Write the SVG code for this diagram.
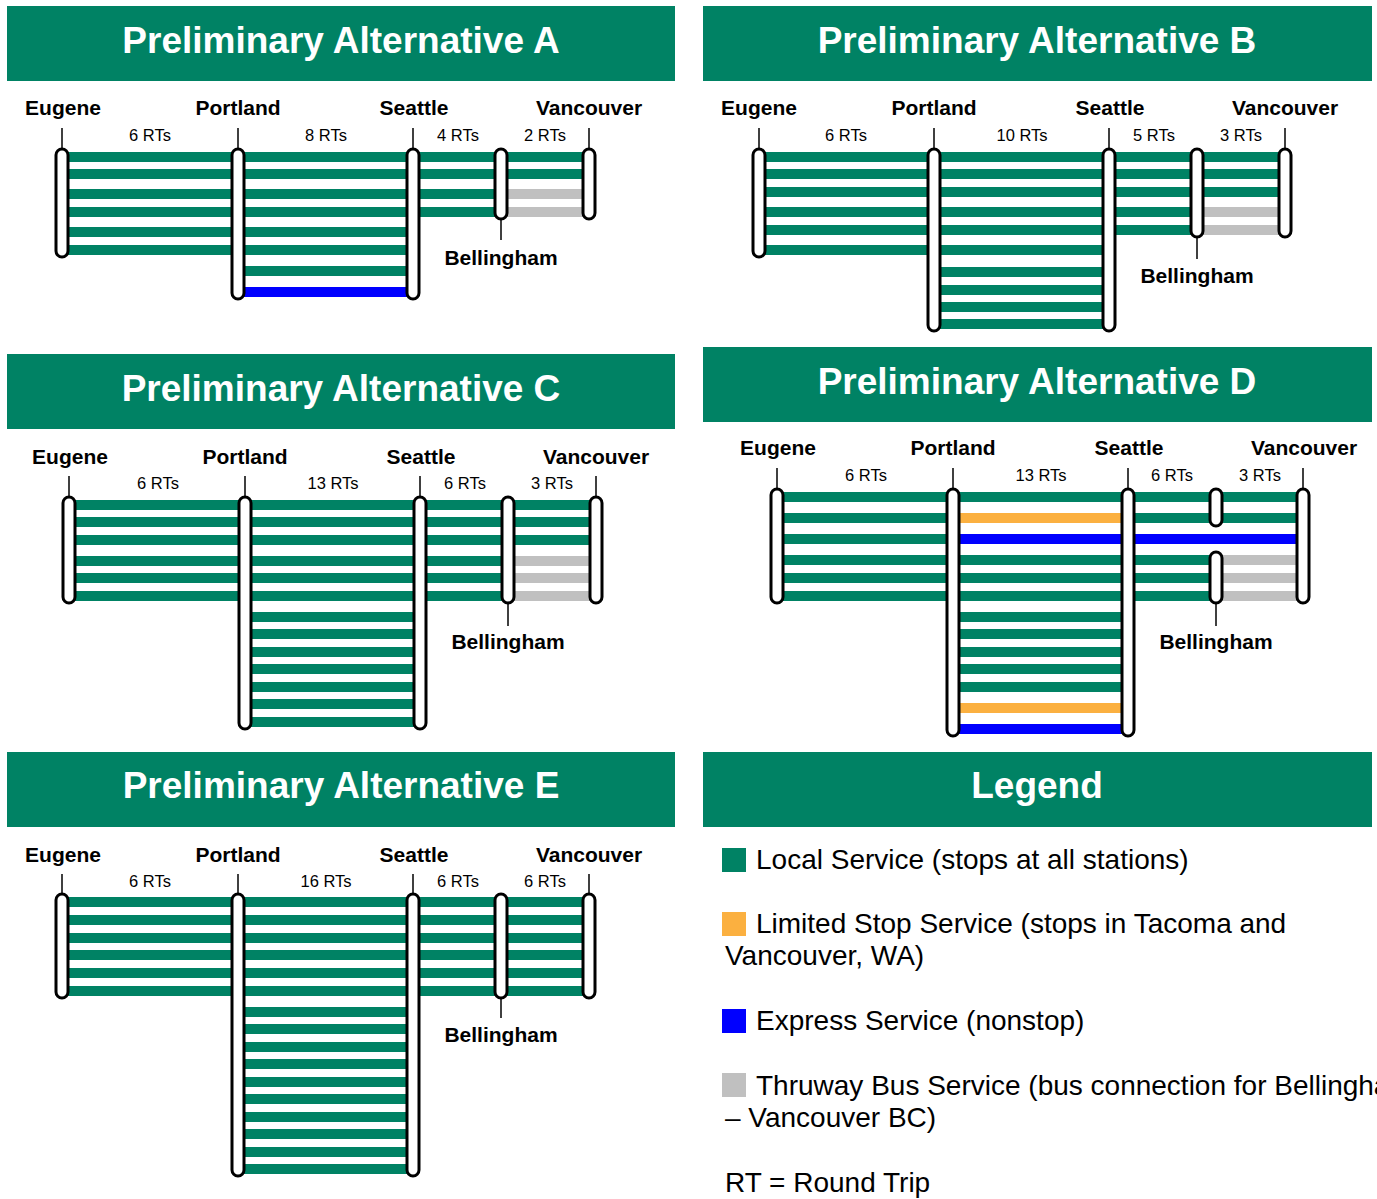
<svg xmlns="http://www.w3.org/2000/svg" width="1377" height="1199" viewBox="0 0 1377 1199">
<style>
.hdr{fill:#008264}
.title{font-family:"Liberation Sans",Arial,sans-serif;font-weight:bold;font-size:37px;fill:#fff;text-anchor:middle}
.st{font-family:"Liberation Sans",Arial,sans-serif;font-weight:bold;font-size:21px;fill:#000;text-anchor:middle}
.rt{font-family:"Liberation Sans",Arial,sans-serif;font-size:16.5px;fill:#000;text-anchor:middle}
.lg{font-family:"Liberation Sans",Arial,sans-serif;font-size:28px;fill:#000}
.bar{fill:#fff;stroke:#000;stroke-width:3}
.tick{stroke:#000;stroke-width:1.5}
.g{fill:#008264}
.o{fill:#fbb040}
.b{fill:#0000ff}
.y{fill:#c0c0c0}
</style>
<rect width="1377" height="1199" fill="#fff"/>

<!-- Headers -->
<g id="headers">
<rect class="hdr" x="7" y="6" width="668" height="75"/>
<text class="title" x="341" y="53">Preliminary Alternative A</text>
<rect class="hdr" x="703" y="6" width="669" height="75"/>
<text class="title" x="1037" y="53">Preliminary Alternative B</text>
<rect class="hdr" x="7" y="354" width="668" height="75"/>
<text class="title" x="341" y="401">Preliminary Alternative C</text>
<rect class="hdr" x="703" y="347" width="669" height="75"/>
<text class="title" x="1037" y="394">Preliminary Alternative D</text>
<rect class="hdr" x="7" y="752" width="668" height="75"/>
<text class="title" x="341" y="798">Preliminary Alternative E</text>
<rect class="hdr" x="703" y="752" width="669" height="75"/>
<text class="title" x="1037" y="798">Legend</text>
</g>

<!-- Connectors (service lines) -->
<g id="connectors">
<!-- A -->
<g id="conn-A">
<rect class="g" x="62" y="152" width="176" height="10"/><rect class="g" x="62" y="169" width="176" height="10"/><rect class="g" x="62" y="189" width="176" height="10"/><rect class="g" x="62" y="207" width="176" height="10"/><rect class="g" x="62" y="227" width="176" height="10"/><rect class="g" x="62" y="245" width="176" height="10"/>
<rect class="g" x="238" y="152" width="175" height="10"/><rect class="g" x="238" y="169" width="175" height="10"/><rect class="g" x="238" y="189" width="175" height="10"/><rect class="g" x="238" y="207" width="175" height="10"/><rect class="g" x="238" y="227" width="175" height="10"/><rect class="g" x="238" y="245" width="175" height="10"/><rect class="g" x="238" y="266" width="175" height="10"/><rect class="b" x="238" y="287" width="175" height="10"/>
<rect class="g" x="413" y="152" width="88" height="10"/><rect class="g" x="413" y="169" width="88" height="10"/><rect class="g" x="413" y="189" width="88" height="10"/><rect class="g" x="413" y="207" width="88" height="10"/>
<rect class="g" x="501" y="152" width="88" height="10"/><rect class="g" x="501" y="169" width="88" height="10"/><rect class="y" x="501" y="189" width="88" height="10"/><rect class="y" x="501" y="207" width="88" height="10"/>
</g>
<!-- B -->
<g id="conn-B">
<rect class="g" x="759" y="152" width="175" height="10"/><rect class="g" x="759" y="169" width="175" height="10"/><rect class="g" x="759" y="187" width="175" height="10"/><rect class="g" x="759" y="207" width="175" height="10"/><rect class="g" x="759" y="225" width="175" height="10"/><rect class="g" x="759" y="245" width="175" height="10"/>
<rect class="g" x="934" y="152" width="175" height="10"/><rect class="g" x="934" y="169" width="175" height="10"/><rect class="g" x="934" y="187" width="175" height="10"/><rect class="g" x="934" y="207" width="175" height="10"/><rect class="g" x="934" y="225" width="175" height="10"/><rect class="g" x="934" y="245" width="175" height="10"/><rect class="g" x="934" y="267" width="175" height="10"/><rect class="g" x="934" y="285" width="175" height="10"/><rect class="g" x="934" y="302" width="175" height="10"/><rect class="g" x="934" y="319" width="175" height="10"/>
<rect class="g" x="1109" y="152" width="88" height="10"/><rect class="g" x="1109" y="169" width="88" height="10"/><rect class="g" x="1109" y="187" width="88" height="10"/><rect class="g" x="1109" y="207" width="88" height="10"/><rect class="g" x="1109" y="225" width="88" height="10"/>
<rect class="g" x="1197" y="152" width="88" height="10"/><rect class="g" x="1197" y="169" width="88" height="10"/><rect class="g" x="1197" y="187" width="88" height="10"/><rect class="y" x="1197" y="207" width="88" height="10"/><rect class="y" x="1197" y="225" width="88" height="10"/>
</g>
<!-- C -->
<g id="conn-C">
<rect class="g" x="69" y="500" width="176" height="10"/><rect class="g" x="69" y="517" width="176" height="10"/><rect class="g" x="69" y="535" width="176" height="10"/><rect class="g" x="69" y="556" width="176" height="10"/><rect class="g" x="69" y="573" width="176" height="10"/><rect class="g" x="69" y="591" width="176" height="10"/>
<rect class="g" x="245" y="500" width="175" height="10"/><rect class="g" x="245" y="517" width="175" height="10"/><rect class="g" x="245" y="535" width="175" height="10"/><rect class="g" x="245" y="556" width="175" height="10"/><rect class="g" x="245" y="573" width="175" height="10"/><rect class="g" x="245" y="591" width="175" height="10"/><rect class="g" x="245" y="612" width="175" height="10"/><rect class="g" x="245" y="629" width="175" height="10"/><rect class="g" x="245" y="647" width="175" height="10"/><rect class="g" x="245" y="664" width="175" height="10"/><rect class="g" x="245" y="682" width="175" height="10"/><rect class="g" x="245" y="699" width="175" height="10"/><rect class="g" x="245" y="717" width="175" height="10"/>
<rect class="g" x="420" y="500" width="88" height="10"/><rect class="g" x="420" y="517" width="88" height="10"/><rect class="g" x="420" y="535" width="88" height="10"/><rect class="g" x="420" y="556" width="88" height="10"/><rect class="g" x="420" y="573" width="88" height="10"/><rect class="g" x="420" y="591" width="88" height="10"/>
<rect class="g" x="508" y="500" width="88" height="10"/><rect class="g" x="508" y="517" width="88" height="10"/><rect class="g" x="508" y="535" width="88" height="10"/><rect class="y" x="508" y="556" width="88" height="10"/><rect class="y" x="508" y="573" width="88" height="10"/><rect class="y" x="508" y="591" width="88" height="10"/>
</g>
<!-- D -->
<g id="conn-D">
<rect class="g" x="777" y="492" width="176" height="10"/><rect class="g" x="777" y="513" width="176" height="10"/><rect class="g" x="777" y="534" width="176" height="10"/><rect class="g" x="777" y="555" width="176" height="10"/><rect class="g" x="777" y="573" width="176" height="10"/><rect class="g" x="777" y="591" width="176" height="10"/>
<rect class="g" x="953" y="492" width="175" height="10"/><rect class="o" x="953" y="513" width="175" height="10"/><rect class="b" x="953" y="534" width="175" height="10"/><rect class="g" x="953" y="555" width="175" height="10"/><rect class="g" x="953" y="573" width="175" height="10"/><rect class="g" x="953" y="591" width="175" height="10"/><rect class="g" x="953" y="612" width="175" height="10"/><rect class="g" x="953" y="629" width="175" height="10"/><rect class="g" x="953" y="647" width="175" height="10"/><rect class="g" x="953" y="664" width="175" height="10"/><rect class="g" x="953" y="682" width="175" height="10"/><rect class="o" x="953" y="703" width="175" height="10"/><rect class="b" x="953" y="724" width="175" height="10"/>
<rect class="g" x="1128" y="492" width="175" height="10"/><rect class="g" x="1128" y="513" width="175" height="10"/><rect class="b" x="1128" y="534" width="175" height="10"/>
<rect class="g" x="1128" y="555" width="88" height="10"/><rect class="g" x="1128" y="573" width="88" height="10"/><rect class="g" x="1128" y="591" width="88" height="10"/>
<rect class="y" x="1216" y="555" width="87" height="10"/><rect class="y" x="1216" y="573" width="87" height="10"/><rect class="y" x="1216" y="591" width="87" height="10"/>
</g>
<!-- E -->
<g id="conn-E">
<rect class="g" x="62" y="897" width="176" height="10"/><rect class="g" x="62" y="915" width="176" height="10"/><rect class="g" x="62" y="933" width="176" height="10"/><rect class="g" x="62" y="950" width="176" height="10"/><rect class="g" x="62" y="968" width="176" height="10"/><rect class="g" x="62" y="986" width="176" height="10"/>
<rect class="g" x="238" y="897" width="175" height="10"/><rect class="g" x="238" y="915" width="175" height="10"/><rect class="g" x="238" y="933" width="175" height="10"/><rect class="g" x="238" y="950" width="175" height="10"/><rect class="g" x="238" y="968" width="175" height="10"/><rect class="g" x="238" y="986" width="175" height="10"/><rect class="g" x="238" y="1007" width="175" height="10"/><rect class="g" x="238" y="1024" width="175" height="10"/><rect class="g" x="238" y="1042" width="175" height="10"/><rect class="g" x="238" y="1059" width="175" height="10"/><rect class="g" x="238" y="1077" width="175" height="10"/><rect class="g" x="238" y="1094" width="175" height="10"/><rect class="g" x="238" y="1112" width="175" height="10"/><rect class="g" x="238" y="1129" width="175" height="10"/><rect class="g" x="238" y="1147" width="175" height="10"/><rect class="g" x="238" y="1164" width="175" height="10"/>
<rect class="g" x="413" y="897" width="88" height="10"/><rect class="g" x="413" y="915" width="88" height="10"/><rect class="g" x="413" y="933" width="88" height="10"/><rect class="g" x="413" y="950" width="88" height="10"/><rect class="g" x="413" y="968" width="88" height="10"/><rect class="g" x="413" y="986" width="88" height="10"/>
<rect class="g" x="501" y="897" width="88" height="10"/><rect class="g" x="501" y="915" width="88" height="10"/><rect class="g" x="501" y="933" width="88" height="10"/><rect class="g" x="501" y="950" width="88" height="10"/><rect class="g" x="501" y="968" width="88" height="10"/><rect class="g" x="501" y="986" width="88" height="10"/>
</g>
<!-- ticks -->
<g id="ticks">
<line class="tick" x1="62" y1="128" x2="62" y2="149"/><line class="tick" x1="238" y1="128" x2="238" y2="149"/><line class="tick" x1="413" y1="128" x2="413" y2="149"/><line class="tick" x1="589" y1="128" x2="589" y2="149"/><line class="tick" x1="501" y1="219" x2="501" y2="240"/>
<line class="tick" x1="759" y1="128" x2="759" y2="149"/><line class="tick" x1="934" y1="128" x2="934" y2="149"/><line class="tick" x1="1109" y1="128" x2="1109" y2="149"/><line class="tick" x1="1285" y1="128" x2="1285" y2="149"/><line class="tick" x1="1197" y1="237" x2="1197" y2="259"/>
<line class="tick" x1="69" y1="476" x2="69" y2="497"/><line class="tick" x1="245" y1="476" x2="245" y2="497"/><line class="tick" x1="420" y1="476" x2="420" y2="497"/><line class="tick" x1="596" y1="476" x2="596" y2="497"/><line class="tick" x1="508" y1="603" x2="508" y2="626"/>
<line class="tick" x1="777" y1="468" x2="777" y2="489"/><line class="tick" x1="953" y1="468" x2="953" y2="489"/><line class="tick" x1="1128" y1="468" x2="1128" y2="489"/><line class="tick" x1="1303" y1="468" x2="1303" y2="489"/><line class="tick" x1="1216" y1="603" x2="1216" y2="626"/>
<line class="tick" x1="62" y1="874" x2="62" y2="894"/><line class="tick" x1="238" y1="874" x2="238" y2="894"/><line class="tick" x1="413" y1="874" x2="413" y2="894"/><line class="tick" x1="589" y1="874" x2="589" y2="894"/><line class="tick" x1="501" y1="998" x2="501" y2="1018"/>
</g>
</g>

<!-- Panel A stations -->
<g id="A-eugene"><rect class="bar" x="56" y="149" width="12" height="108" rx="6"/><text class="st" x="63" y="115">Eugene</text></g>
<g id="A-portland"><rect class="bar" x="232" y="149" width="12" height="150" rx="6"/><text class="st" x="238" y="115">Portland</text></g>
<g id="A-seattle"><rect class="bar" x="407" y="149" width="12" height="150" rx="6"/><text class="st" x="414" y="115">Seattle</text></g>
<g id="A-bellingham"><rect class="bar" x="495" y="149" width="12" height="70" rx="6"/><text class="st" x="501" y="265">Bellingham</text></g>
<g id="A-vancouver"><rect class="bar" x="583" y="149" width="12" height="70" rx="6"/><text class="st" x="589" y="115">Vancouver</text></g>
<g id="A-rts"><text class="rt" x="150" y="141">6 RTs</text><text class="rt" x="326" y="141">8 RTs</text><text class="rt" x="458" y="141">4 RTs</text><text class="rt" x="545" y="141">2 RTs</text></g>

<!-- Panel B stations -->
<g id="B-eugene"><rect class="bar" x="753" y="149" width="12" height="108" rx="6"/><text class="st" x="759" y="115">Eugene</text></g>
<g id="B-portland"><rect class="bar" x="928" y="149" width="12" height="182" rx="6"/><text class="st" x="934" y="115">Portland</text></g>
<g id="B-seattle"><rect class="bar" x="1103" y="149" width="12" height="182" rx="6"/><text class="st" x="1110" y="115">Seattle</text></g>
<g id="B-bellingham"><rect class="bar" x="1191" y="149" width="12" height="88" rx="6"/><text class="st" x="1197" y="283">Bellingham</text></g>
<g id="B-vancouver"><rect class="bar" x="1279" y="149" width="12" height="88" rx="6"/><text class="st" x="1285" y="115">Vancouver</text></g>
<g id="B-rts"><text class="rt" x="846" y="141">6 RTs</text><text class="rt" x="1022" y="141">10 RTs</text><text class="rt" x="1154" y="141">5 RTs</text><text class="rt" x="1241" y="141">3 RTs</text></g>

<!-- Panel C stations -->
<g id="C-eugene"><rect class="bar" x="63" y="497" width="12" height="106" rx="6"/><text class="st" x="70" y="464">Eugene</text></g>
<g id="C-portland"><rect class="bar" x="239" y="497" width="12" height="232" rx="6"/><text class="st" x="245" y="464">Portland</text></g>
<g id="C-seattle"><rect class="bar" x="414" y="497" width="12" height="232" rx="6"/><text class="st" x="421" y="464">Seattle</text></g>
<g id="C-bellingham"><rect class="bar" x="502" y="497" width="12" height="106" rx="6"/><text class="st" x="508" y="649">Bellingham</text></g>
<g id="C-vancouver"><rect class="bar" x="590" y="497" width="12" height="106" rx="6"/><text class="st" x="596" y="464">Vancouver</text></g>
<g id="C-rts"><text class="rt" x="158" y="489">6 RTs</text><text class="rt" x="333" y="489">13 RTs</text><text class="rt" x="465" y="489">6 RTs</text><text class="rt" x="552" y="489">3 RTs</text></g>

<!-- Panel D stations -->
<g id="D-eugene"><rect class="bar" x="771" y="489" width="12" height="114" rx="6"/><text class="st" x="778" y="455">Eugene</text></g>
<g id="D-portland"><rect class="bar" x="947" y="489" width="12" height="247" rx="6"/><text class="st" x="953" y="455">Portland</text></g>
<g id="D-seattle"><rect class="bar" x="1122" y="489" width="12" height="247" rx="6"/><text class="st" x="1129" y="455">Seattle</text></g>
<g id="D-bellingham"><rect class="bar" x="1210" y="489" width="12" height="37" rx="6"/><rect class="bar" x="1210" y="552" width="12" height="51" rx="6"/><text class="st" x="1216" y="649">Bellingham</text></g>
<g id="D-vancouver"><rect class="bar" x="1297" y="489" width="12" height="114" rx="6"/><text class="st" x="1304" y="455">Vancouver</text></g>
<g id="D-rts"><text class="rt" x="866" y="481">6 RTs</text><text class="rt" x="1041" y="481">13 RTs</text><text class="rt" x="1172" y="481">6 RTs</text><text class="rt" x="1260" y="481">3 RTs</text></g>

<!-- Panel E stations -->
<g id="E-eugene"><rect class="bar" x="56" y="894" width="12" height="104" rx="6"/><text class="st" x="63" y="862">Eugene</text></g>
<g id="E-portland"><rect class="bar" x="232" y="894" width="12" height="282" rx="6"/><text class="st" x="238" y="862">Portland</text></g>
<g id="E-seattle"><rect class="bar" x="407" y="894" width="12" height="282" rx="6"/><text class="st" x="414" y="862">Seattle</text></g>
<g id="E-bellingham"><rect class="bar" x="495" y="894" width="12" height="104" rx="6"/><text class="st" x="501" y="1042">Bellingham</text></g>
<g id="E-vancouver"><rect class="bar" x="583" y="894" width="12" height="104" rx="6"/><text class="st" x="589" y="862">Vancouver</text></g>
<g id="E-rts"><text class="rt" x="150" y="887">6 RTs</text><text class="rt" x="326" y="887">16 RTs</text><text class="rt" x="458" y="887">6 RTs</text><text class="rt" x="545" y="887">6 RTs</text></g>

<!-- Legend -->
<g id="legend">
<rect class="g" x="722" y="848" width="24" height="24"/>
<text class="lg" x="756" y="869">Local Service (stops at all stations)</text>
<rect class="o" x="722" y="912" width="24" height="24"/>
<text class="lg" x="756" y="933">Limited Stop Service (stops in Tacoma and</text>
<text class="lg" x="725" y="965">Vancouver, WA)</text>
<rect class="b" x="722" y="1009" width="24" height="24"/>
<text class="lg" x="756" y="1030">Express Service (nonstop)</text>
<rect class="y" x="722" y="1073" width="24" height="24"/>
<text class="lg" x="756" y="1095">Thruway Bus Service (bus connection for Bellingham</text>
<text class="lg" x="725" y="1127">– Vancouver BC)</text>
<text class="lg" x="725" y="1192">RT = Round Trip</text>
</g>
</svg>
